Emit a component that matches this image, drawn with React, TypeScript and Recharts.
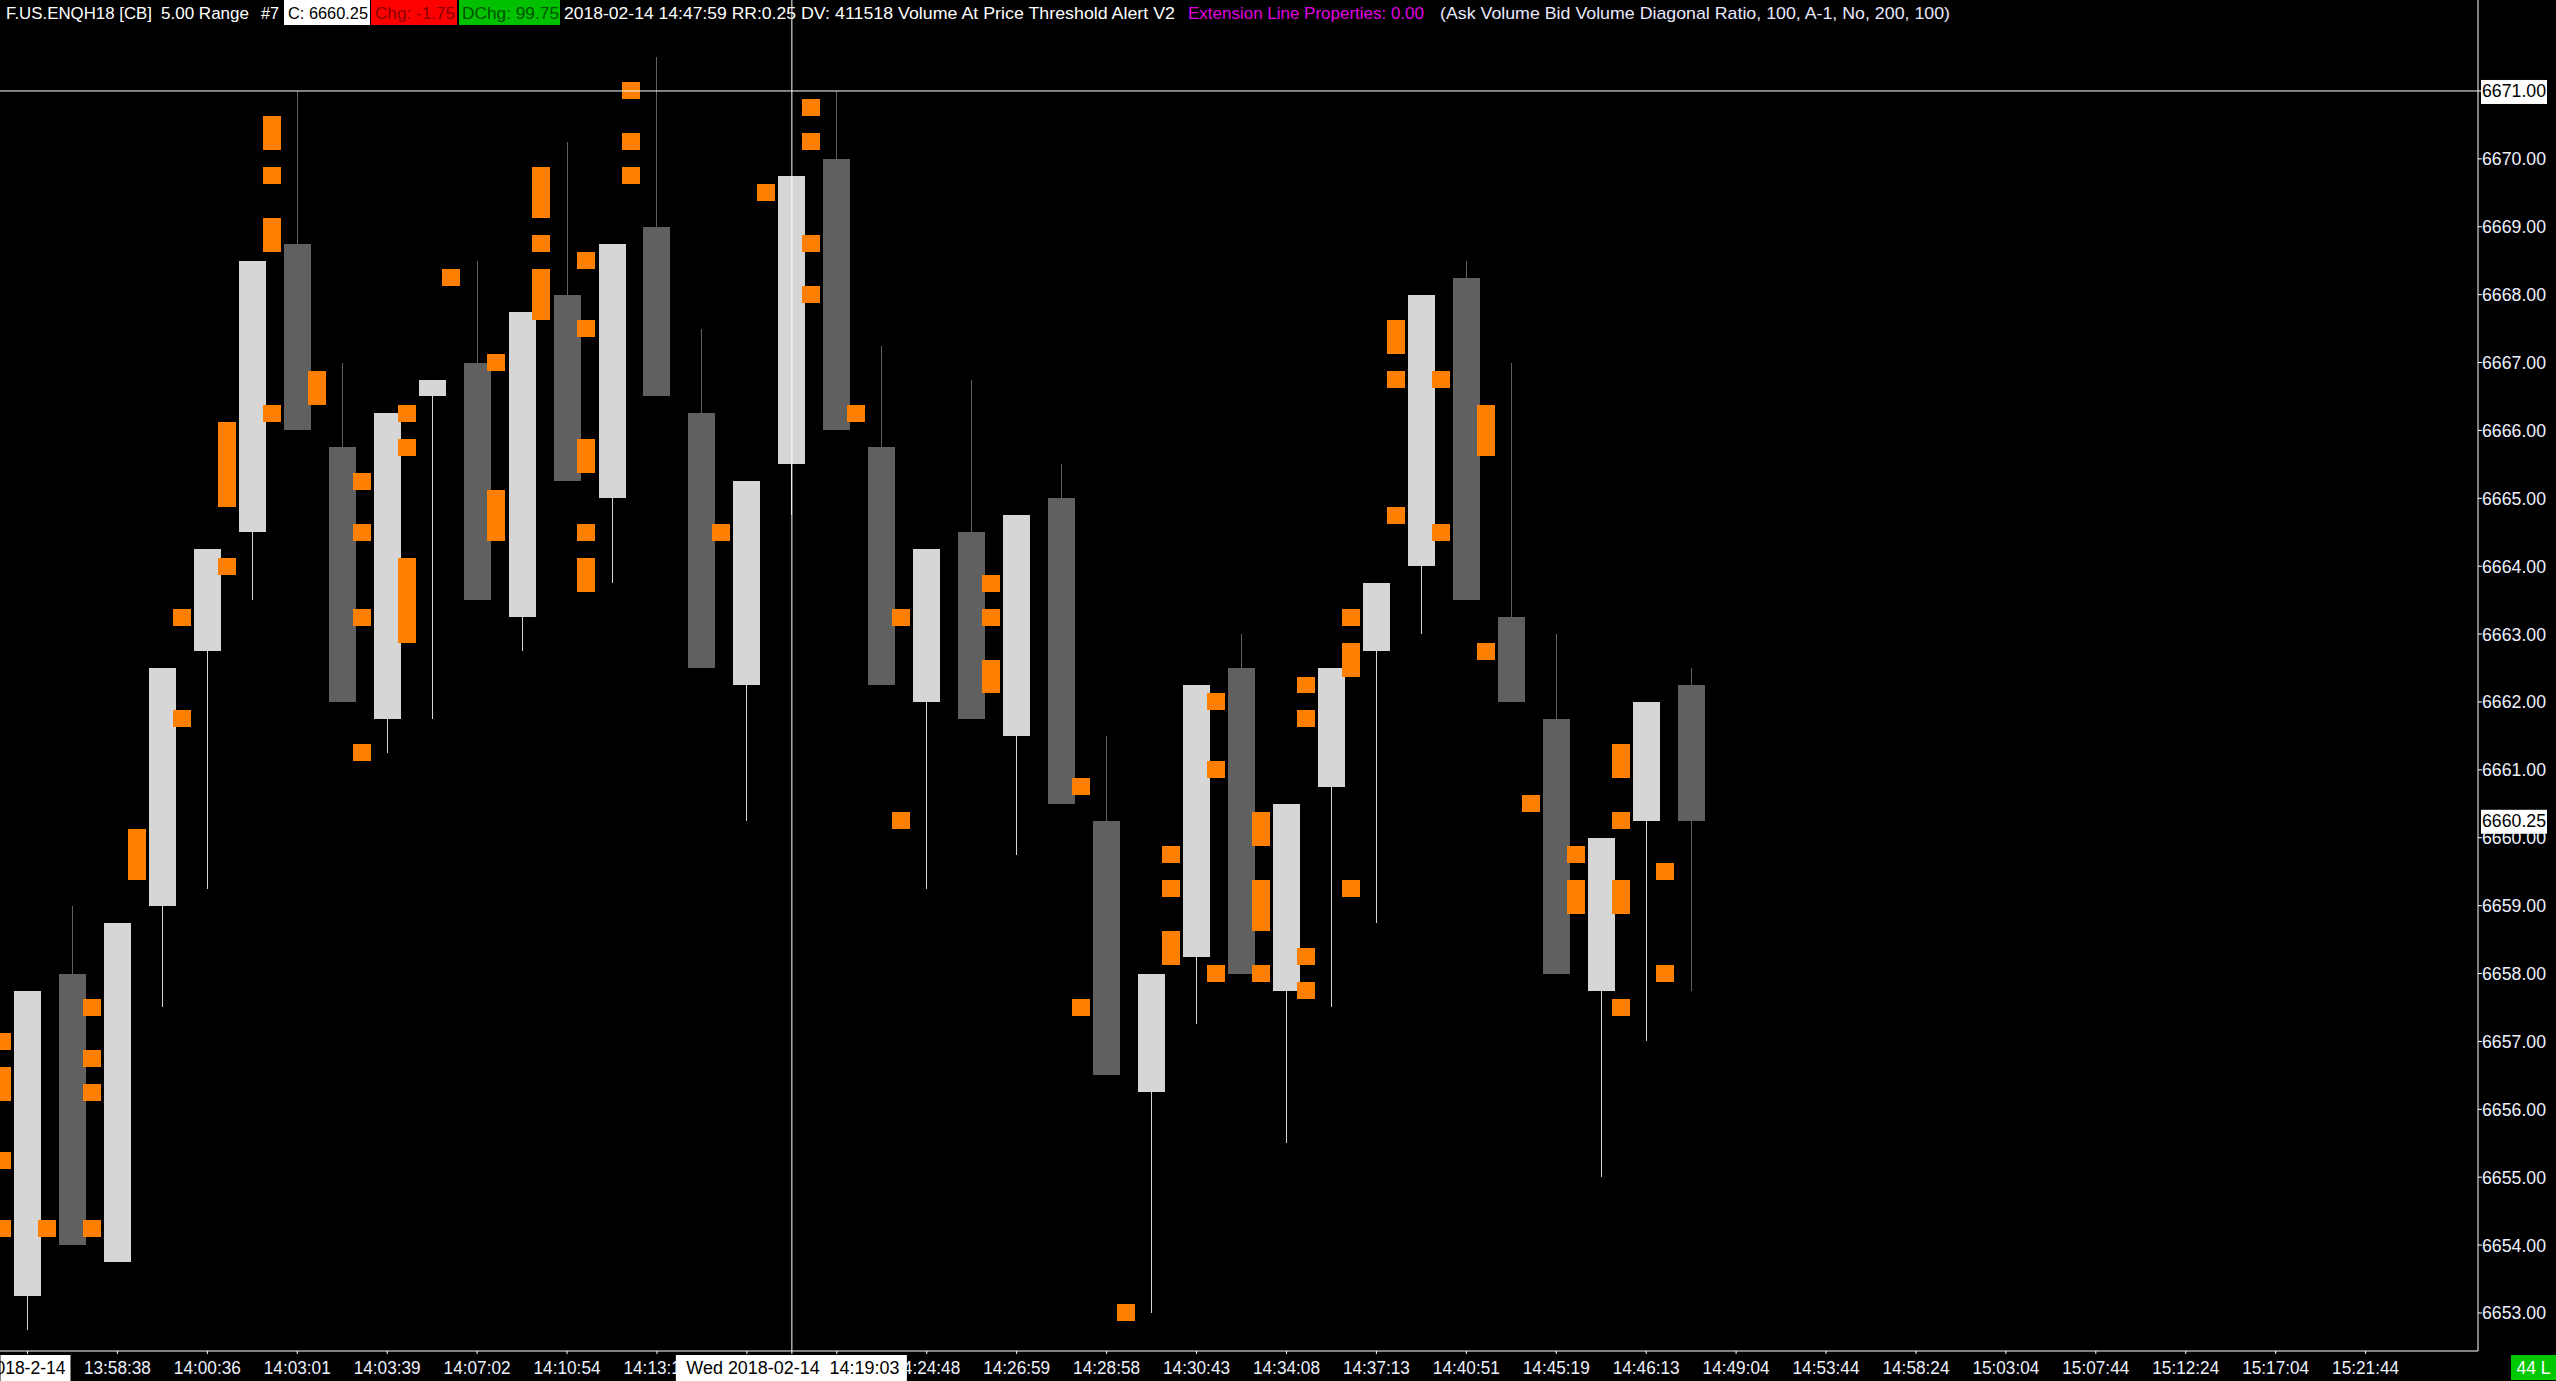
import React from "react";
import { ComposedChart, Bar, XAxis, YAxis, ReferenceLine } from "recharts";

const W = 2556;
const H = 1381;

// ---- categories (bar slots; 38 printed bars + projected future slots) ----
const BAR_SLOTS = Array.from({ length: 55 }, (_, i) => i + 1);

// ---- OHLC of the 5.00 range bars ----
const OPEN = [6653.25, 6658, 6653.75, 6659, 6662.75, 6664.5, 6668.75, 6665.75, 6661.75, 6666.5, 6667, 6663.25, 6668, 6665, 6669, 6666.25, 6662.25, 6665.5, 6670, 6665.75, 6662, 6664.5, 6661.5, 6665, 6660.25, 6656.25, 6658.25, 6662.5, 6657.75, 6660.75, 6662.75, 6664, 6668.25, 6663.25, 6661.75, 6657.75, 6660.25, 6662.25];
const HIGH = [6657.75, 6659, 6658.75, 6662.5, 6664.25, 6668.5, 6671, 6667, 6666.25, 6666.75, 6668.5, 6667.75, 6670.25, 6668.75, 6671.5, 6667.5, 6665.25, 6669.75, 6671, 6667.25, 6664.25, 6666.75, 6664.75, 6665.5, 6661.5, 6658, 6662.25, 6663, 6660.5, 6662.5, 6663.75, 6668, 6668.5, 6667, 6663, 6660, 6662, 6662.5];
const LOW = [6652.75, 6654, 6653.75, 6657.5, 6659.25, 6663.5, 6666, 6662, 6661.25, 6661.75, 6663.5, 6662.75, 6665.25, 6663.75, 6666.5, 6662.5, 6660.25, 6664.75, 6666, 6662.25, 6659.25, 6661.75, 6659.75, 6660.5, 6656.5, 6653, 6657.25, 6658, 6655.5, 6657.5, 6658.75, 6663, 6663.5, 6662, 6658, 6655, 6657, 6657.75];
const CLOSE = [6657.75, 6654, 6658.75, 6662.5, 6664.25, 6668.5, 6666, 6662, 6666.25, 6666.75, 6663.5, 6667.75, 6665.25, 6668.75, 6666.5, 6662.5, 6665.25, 6669.75, 6666, 6662.25, 6664.25, 6661.75, 6664.75, 6660.5, 6656.5, 6658, 6662.25, 6658, 6660.5, 6662.5, 6663.75, 6668, 6663.5, 6662, 6658, 6660, 6662, 6660.25];

// ---- Ask/Bid diagonal ratio alert price levels (one tick each) ----
const ASK_MARKS: number[][] = [
  [6654.25],
  [6657.5, 6656.75, 6656.25, 6654.25],
  [6660, 6659.75, 6659.5],
  [6663.25, 6661.75],
  [6666, 6665.75, 6665.5, 6665.25, 6665, 6664],
  [6670.5, 6670.25, 6669.75, 6669, 6668.75, 6666.25],
  [6666.75, 6666.5],
  [6665.25, 6664.5, 6663.25, 6661.25],
  [6666.25, 6665.75, 6664, 6663.75, 6663.5, 6663.25, 6663],
  [6668.25],
  [6667, 6665, 6664.75, 6664.5],
  [6669.75, 6669.5, 6669.25, 6668.75, 6668.25, 6668, 6667.75],
  [6668.5, 6667.5, 6665.75, 6665.5, 6664.5, 6664, 6663.75],
  [6671, 6670.25, 6669.75],
  [],
  [6664.5],
  [6669.5],
  [6670.75, 6670.25, 6668.75, 6668],
  [6666.25],
  [6663.25, 6660.25],
  [],
  [6663.75, 6663.25, 6662.5, 6662.25],
  [],
  [6660.75, 6657.5],
  [6653],
  [6659.75, 6659.25, 6658.5, 6658.25],
  [6662, 6661, 6658],
  [6660.25, 6660, 6659.25, 6659, 6658.75, 6658],
  [6662.25, 6661.75, 6658.25, 6657.75],
  [6663.25, 6662.75, 6662.5, 6659.25],
  [6667.5, 6667.25, 6666.75, 6664.75],
  [6666.75, 6664.5],
  [6666.25, 6666, 6665.75, 6662.75],
  [6660.5],
  [6659.75, 6659.25, 6659],
  [6661.25, 6661, 6660.25, 6659.25, 6659, 6657.5],
  [6659.5, 6658],
  [],
];
const FIRST_BAR_BID_MARKS = [6657, 6656.5, 6656.25, 6655.25, 6654.25];

// ---- axis ticks / labels ----
const PRICE_TICKS = [6653, 6654, 6655, 6656, 6657, 6658, 6659, 6660, 6661, 6662, 6663, 6664, 6665, 6666, 6667, 6668, 6669, 6670, 6671];
const CROSSHAIR_PRICE = 6671;
const LAST_PRICE = 6660.25;
const TIME_TICK_BARS = [1, 3, 5, 7, 9, 11, 13, 15, 17, 19, 21, 23, 25, 27, 29, 31, 33, 35, 37, 39, 41, 43, 45, 47, 49, 51, 53];
const TIME_LABELS = ["2018-2-14", "13:58:38", "14:00:36", "14:03:01", "14:03:39", "14:07:02", "14:10:54", "14:13:17", "14:16:05", "14:21:30", "14:24:48", "14:26:59", "14:28:58", "14:30:43", "14:34:08", "14:37:13", "14:40:51", "14:45:19", "14:46:13", "14:49:04", "14:53:44", "14:58:24", "15:03:04", "15:07:44", "15:12:24", "15:17:04", "15:21:44"];
const CROSSHAIR_BAR = 18;
const CROSSHAIR_LABEL = "Wed 2018-02-14  14:19:03";

const TICK = 0.25;
const UP_COLOR = "#d6d6d6";
const DOWN_COLOR = "#606060";
const MARK_COLOR = "#ff8000";
const AXIS_TEXT = "#eef2ff";
const FONT = "'Liberation Sans', Arial, sans-serif";
const NARROW_FONT = "'Liberation Sans Narrow', 'Liberation Sans', Arial, sans-serif";

const rows = BAR_SLOTS.map((slot, i) => {
  if (i >= OPEN.length) return { bar: slot, range: null };
  const ask = ASK_MARKS[i] || [];
  const bid = i === 0 ? FIRST_BAR_BID_MARKS : [];
  const all = [...ask, ...bid];
  const lo = Math.min(LOW[i], ...all.map((p) => p - TICK / 2));
  const hi = Math.max(HIGH[i], ...all.map((p) => p + TICK / 2));
  return { bar: slot, range: [lo, hi], open: OPEN[i], high: HIGH[i], low: LOW[i], close: CLOSE[i], ask, bid };
});

function runsOf(levels: number[]) {
  const s = [...levels].sort((a, b) => a - b);
  const out: [number, number][] = [];
  s.forEach((p) => {
    const last = out[out.length - 1];
    if (last && Math.abs(p - last[1] - TICK) < 1e-6) last[1] = p;
    else out.push([p, p]);
  });
  return out;
}

function Candle(props: any) {
  const { x, y, width, height, payload } = props;
  if (!payload || !payload.range) return null;
  const [lo, hi] = payload.range;
  const top = Math.min(y, y + height);
  const bot = Math.max(y, y + height);
  const k = (bot - top) / (hi - lo);
  const py = (p: number) => top + (hi - p) * k;
  const cx = x + width / 2;
  const up = payload.close >= payload.open;
  const color = up ? UP_COLOR : DOWN_COLOR;
  const wx = Math.floor(cx) + 0.5;
  const bTop = py(Math.max(payload.open, payload.close));
  const bBot = py(Math.min(payload.open, payload.close));
  const markRects = (levels: number[], left: number, key: string) =>
    runsOf(levels).map(([a, b], j) => {
      const yt = py(b + TICK / 2);
      const yb = py(a - TICK / 2);
      return <rect key={key + j} x={left} y={yt} width={18} height={yb - yt} fill={MARK_COLOR} />;
    });
  return (
    <g shapeRendering="crispEdges">
      <line x1={wx} x2={wx} y1={py(payload.high)} y2={py(payload.low)} stroke={color} strokeWidth={1} />
      <rect x={x} y={bTop} width={width} height={Math.max(1, bBot - bTop)} fill={color} />
      {markRects(payload.ask, cx + 10.3, "a")}
      {markRects(payload.bid, cx - 34.7, "b")}
    </g>
  );
}

function PriceTick(props: any) {
  const { x, y, payload } = props;
  const v = payload.value as number;
  const hl = v === CROSSHAIR_PRICE;
  return (
    <g>
      {hl && <rect x={x - 1} y={y - 11} width={66} height={24} fill="#ffffff" />}
      <text x={x} y={y + 6.5} fill={hl ? "#000" : AXIS_TEXT} fontSize={18} fontFamily={FONT} textLength={64} lengthAdjust="spacingAndGlyphs">
        {v.toFixed(2)}
      </text>
    </g>
  );
}

function PriceFlag(props: any) {
  const { viewBox, value } = props;
  if (!viewBox) return null;
  const x = viewBox.x + viewBox.width + 3;
  const y = viewBox.y;
  return (
    <g>
      <rect x={x} y={y - 11} width={66} height={24} fill="#ffffff" />
      <text x={x + 1} y={y + 6.5} fill="#000" fontSize={18} fontFamily={FONT} textLength={64} lengthAdjust="spacingAndGlyphs">
        {Number(value).toFixed(2)}
      </text>
    </g>
  );
}

function TimeTick(props: any) {
  const { x, y, payload } = props;
  const bar = payload.value as number;
  if (bar === CROSSHAIR_BAR) {
    return (
      <g>
        <rect x={x - 116} y={y + 1} width={231} height={26} fill="#ffffff" />
        <text x={x + 1} y={y + 20} textAnchor="middle" fill="#000" fontSize={17.5} fontFamily={NARROW_FONT} textLength={213} lengthAdjust="spacingAndGlyphs" xmlSpace="preserve">
          {CROSSHAIR_LABEL}
        </text>
      </g>
    );
  }
  // labels lying fully under the crosshair time flag are not visible
  if (Math.abs(bar - CROSSHAIR_BAR) <= 1) return <g />;
  const idx = TIME_TICK_BARS.indexOf(bar);
  const label = TIME_LABELS[idx] ?? "";
  if (idx === 0) {
    return (
      <g>
        <rect x={x - 27} y={y + 1} width={70} height={26} fill="#ffffff" />
        <text x={x + 38} y={y + 20} textAnchor="end" fill="#000" fontSize={17.5} fontFamily={NARROW_FONT}>
          {label}
        </text>
      </g>
    );
  }
  return (
    <text x={x} y={y + 20} textAnchor="middle" fill={AXIS_TEXT} fontSize={17.5} fontFamily={NARROW_FONT} textLength={67} lengthAdjust="spacingAndGlyphs">
      {label}
    </text>
  );
}

const HEADER = [
  { text: "F.US.ENQH18 [CB]", x: 6, len: 146, fill: "#ffffff" },
  { text: "5.00 Range", x: 161, len: 88, fill: "#ffffff" },
  { text: "#7", x: 261, len: 18, fill: "#ffffff" },
  { text: "C: 6660.25", x: 288, len: 80, fill: "#000000", bg: "#ffffff", bx: 284, bw: 86 },
  { text: "Chg: -1.75", x: 375, len: 80, fill: "#8a0000", bg: "#ff0000", bx: 371, bw: 86 },
  { text: "DChg: 99.75", x: 462, len: 97, fill: "#005200", bg: "#00c000", bx: 459, bw: 101 },
  { text: "2018-02-14 14:47:59 RR:0.25", x: 564, len: 232, fill: "#ffffff" },
  { text: "DV: 411518 Volume At Price Threshold Alert V2", x: 801, len: 374, fill: "#ffffff" },
  { text: "Extension Line Properties: 0.00", x: 1188, len: 236, fill: "#e000e0" },
  { text: "(Ask Volume Bid Volume Diagonal Ratio, 100, A-1, No, 200, 100)", x: 1440, len: 510, fill: "#e8e8ff" },
];

function Overlay() {
  return (
    <svg width={W} height={H} style={{ position: "absolute", left: 0, top: 0, pointerEvents: "none" }}>
      {HEADER.map((h, i) => (
        <g key={i}>
          {h.bg && <rect x={h.bx} y={0} width={h.bw} height={25} fill={h.bg} />}
          <text x={h.x} y={19} fill={h.fill} fontSize={17} fontFamily={NARROW_FONT} textLength={h.len} lengthAdjust="spacingAndGlyphs">
            {h.text}
          </text>
        </g>
      ))}
      <rect x={2511} y={1355} width={45} height={25} fill="#00c800" />
      <text x={2533.5} y={1374} textAnchor="middle" fill="#ffffff" fontSize={17.5} fontFamily={FONT}>
        44 L
      </text>
    </svg>
  );
}

export default function App() {
  return (
    <div style={{ position: "fixed", left: 0, top: 0, width: W, height: H, background: "#000", overflow: "hidden" }}>
      <ComposedChart width={W} height={H} data={rows} margin={{ top: 0, right: 0, bottom: 0, left: 0 }} style={{ background: "#000" }}>
        <XAxis
          dataKey="bar"
          type="category"
          ticks={[...TIME_TICK_BARS, CROSSHAIR_BAR]}
          interval={0}
          height={30}
          padding={{ left: 5, right: 0 }}
          tickSize={3}
          tickMargin={0}
          tick={<TimeTick />}
          axisLine={{ stroke: "#ffffff" }}
          tickLine={{ stroke: "#ffffff" }}
        />
        <YAxis
          type="number"
          orientation="right"
          width={78}
          domain={[6652.44, 6672.34]}
          allowDataOverflow
          ticks={PRICE_TICKS}
          interval={0}
          tickSize={4}
          tickMargin={0}
          tick={<PriceTick />}
          axisLine={{ stroke: "#ffffff" }}
          tickLine={{ stroke: "#ffffff" }}
        />
        <Bar dataKey="range" barSize={27} shape={<Candle />} isAnimationActive={false} />
        <ReferenceLine x={CROSSHAIR_BAR} stroke="#ffffff" strokeWidth={1} />
        <ReferenceLine y={CROSSHAIR_PRICE} stroke="#ffffff" strokeWidth={1} />
        <ReferenceLine y={LAST_PRICE} stroke="none" strokeWidth={0} label={<PriceFlag value={LAST_PRICE} />} />
      </ComposedChart>
      <Overlay />
    </div>
  );
}
